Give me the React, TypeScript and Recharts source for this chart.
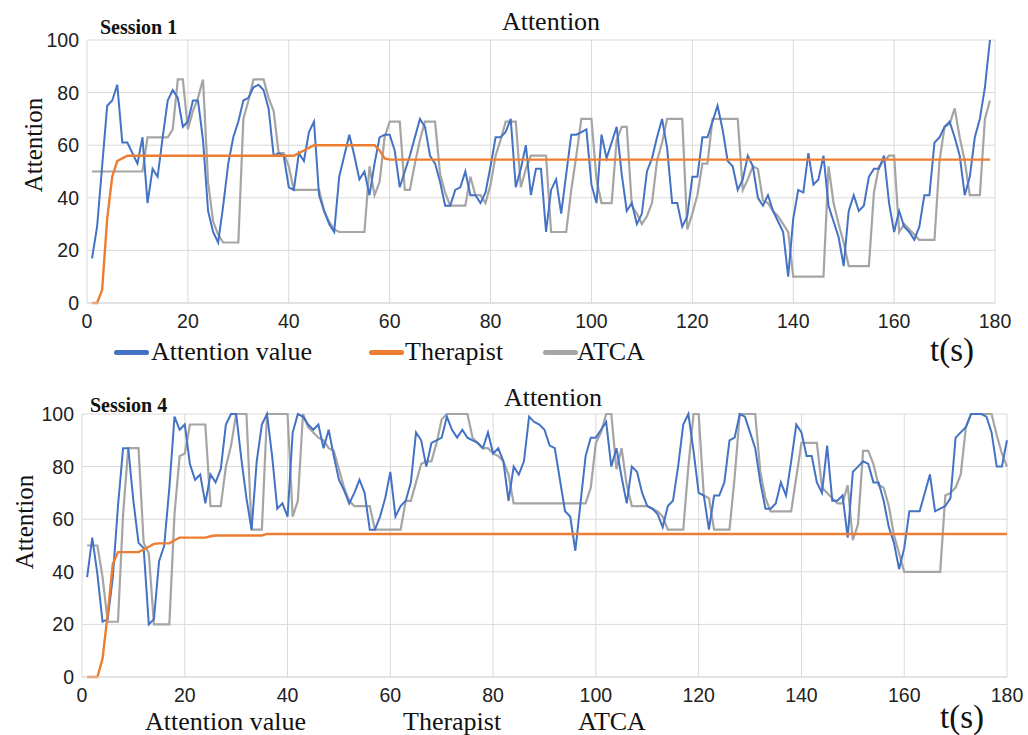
import React from 'react';
import { LineChart, Line, XAxis, YAxis, CartesianGrid } from 'recharts';

// time ticks (s) and attention ticks
const timeTicks = [0, 20, 40, 60, 80, 100, 120, 140, 160, 180];
const attentionTicks = [0, 20, 40, 60, 80, 100];

// Session 1, one value per second starting at t = 1
const s1Attention = [
  17, 29, 52, 75, 77, 83, 61, 61, 57, 53,
  63, 38, 51, 48, 63, 77, 81, 78, 67, 69,
  77, 77, 62, 35, 27, 23, 37, 53, 63, 69,
  77, 78, 82, 83, 81, 74, 56, 57, 56, 44,
  43, 57, 54, 65, 69, 41, 35, 30, 27, 48,
  56, 64, 56, 47, 50, 41, 53, 63, 64, 64,
  58, 44, 50, 56, 63, 70, 67, 56, 53, 46,
  37, 37, 43, 44, 50, 41, 41, 38, 42, 52,
  63, 63, 65, 70, 44, 51, 60, 41, 51, 51,
  27, 43, 47, 34, 49, 64, 64, 65, 66, 45,
  38, 64, 55, 61, 67, 49, 35, 38, 30, 34,
  50, 55, 63, 70, 59, 38, 38, 29, 33, 48,
  48, 63, 63, 69, 75, 66, 54, 52, 43, 47,
  56, 52, 40, 37, 41, 35, 31, 27, 10, 32,
  43, 42, 57, 45, 47, 56, 37, 31, 25, 14,
  35, 41, 35, 37, 48, 51, 51, 56, 38, 27,
  35, 29, 27, 24, 29, 41, 41, 61, 63, 67,
  69, 63, 56, 41, 48, 63, 70, 82, 100,
];

const s1Therapist = [
  0, 0, 5, 32, 48, 54, 55, 56, 56, 56,
  56, 56, 56, 56, 56, 56, 56, 56, 56, 56,
  56, 56, 56, 56, 56, 56, 56, 56, 56, 56,
  56, 56, 56, 56, 56, 56, 56, 56, 56, 56,
  56, 57, 58, 59, 60, 60, 60, 60, 60, 60,
  60, 60, 60, 60, 60, 60, 60, 58, 55, 54.5,
  54.5, 54.5, 54.5, 54.5, 54.5, 54.5, 54.5, 54.5, 54.5, 54.5,
  54.5, 54.5, 54.5, 54.5, 54.5, 54.5, 54.5, 54.5, 54.5, 54.5,
  54.5, 54.5, 54.5, 54.5, 54.5, 54.5, 54.5, 54.5, 54.5, 54.5,
  54.5, 54.5, 54.5, 54.5, 54.5, 54.5, 54.5, 54.5, 54.5, 54.5,
  54.5, 54.5, 54.5, 54.5, 54.5, 54.5, 54.5, 54.5, 54.5, 54.5,
  54.5, 54.5, 54.5, 54.5, 54.5, 54.5, 54.5, 54.5, 54.5, 54.5,
  54.5, 54.5, 54.5, 54.5, 54.5, 54.5, 54.5, 54.5, 54.5, 54.5,
  54.5, 54.5, 54.5, 54.5, 54.5, 54.5, 54.5, 54.5, 54.5, 54.5,
  54.5, 54.5, 54.5, 54.5, 54.5, 54.5, 54.5, 54.5, 54.5, 54.5,
  54.5, 54.5, 54.5, 54.5, 54.5, 54.5, 54.5, 54.5, 54.5, 54.5,
  54.5, 54.5, 54.5, 54.5, 54.5, 54.5, 54.5, 54.5, 54.5, 54.5,
  54.5, 54.5, 54.5, 54.5, 54.5, 54.5, 54.5, 54.5, 54.5,
];

const s1Atca = [
  50, 50, 50, 50, 50, 50, 50, 50, 50, 50,
  50, 63, 63, 63, 63, 63, 66, 85, 85, 66,
  73, 78, 85, 46, 31, 26, 23, 23, 23, 23,
  70, 77, 85, 85, 85, 78, 73, 57, 57, 52,
  43, 43, 43, 43, 43, 43, 35, 31, 28, 27,
  27, 27, 27, 27, 27, 52, 41, 46, 63, 69,
  69, 69, 43, 43, 53, 62, 69, 69, 69, 49,
  42, 37, 37, 37, 37, 48, 41, 41, 38, 45,
  56, 62, 69, 69, 69, 44, 51, 56, 56, 56,
  56, 27, 27, 27, 27, 43, 56, 70, 70, 70,
  47, 38, 38, 38, 62, 67, 67, 37, 34, 30,
  33, 38, 54, 61, 70, 70, 70, 70, 28, 34,
  41, 53, 53, 70, 70, 70, 70, 70, 70, 43,
  47, 52, 51, 39, 38, 35, 33, 30, 27, 10,
  10, 10, 10, 10, 10, 10, 52, 38, 30, 23,
  14, 14, 14, 14, 14, 42, 52, 54, 56, 56,
  27, 30, 28, 26, 24, 24, 24, 24, 54, 67,
  68, 74, 63, 54, 41, 41, 41, 70, 77,
];

// Session 4, one value per second starting at t = 1
const s4Attention = [
  38, 53, 39, 21, 22, 38, 65, 87, 87, 67,
  51, 49, 20, 22, 44, 50, 72, 99, 94, 96,
  81, 75, 77, 66, 77, 74, 79, 96, 100, 100,
  83, 68, 56, 82, 96, 100, 84, 64, 66, 61,
  93, 100, 99, 96, 94, 96, 87, 94, 84, 75,
  71, 66, 70, 75, 70, 56, 56, 61, 68, 78,
  61, 65, 67, 74, 93, 90, 80, 89, 90, 91,
  99, 94, 91, 94, 91, 90, 89, 87, 93, 85,
  87, 82, 67, 80, 77, 82, 99, 97, 96, 94,
  88, 87, 75, 63, 61, 48, 66, 84, 91, 91,
  94, 97, 80, 87, 76, 66, 80, 78, 70, 65,
  64, 62, 57, 65, 67, 80, 96, 100, 86, 70,
  69, 56, 69, 69, 74, 90, 91, 100, 99, 93,
  87, 74, 64, 64, 66, 74, 69, 82, 96, 93,
  84, 84, 74, 70, 88, 67, 67, 69, 53, 78,
  80, 82, 81, 74, 74, 67, 57, 51, 41, 49,
  63, 63, 63, 70, 77, 63, 64, 65, 68, 91,
  93, 95, 100, 100, 100, 99, 93, 80, 80, 90,
];

const s4Therapist = [
  0, 0, 0, 7, 24, 43, 47.5, 47.5, 47.5, 47.5,
  47.5, 48.5, 49.5, 50.6, 50.8, 50.8, 50.8, 52, 53, 53,
  53, 53, 53, 53, 53.5, 53.8, 53.8, 53.8, 53.8, 53.8,
  53.8, 53.8, 53.8, 53.8, 53.8, 54.4, 54.4, 54.4, 54.4, 54.4,
  54.4, 54.4, 54.4, 54.4, 54.4, 54.4, 54.4, 54.4, 54.4, 54.4,
  54.4, 54.4, 54.4, 54.4, 54.4, 54.4, 54.4, 54.4, 54.4, 54.4,
  54.4, 54.4, 54.4, 54.4, 54.4, 54.4, 54.4, 54.4, 54.4, 54.4,
  54.4, 54.4, 54.4, 54.4, 54.4, 54.4, 54.4, 54.4, 54.4, 54.4,
  54.4, 54.4, 54.4, 54.4, 54.4, 54.4, 54.4, 54.4, 54.4, 54.4,
  54.4, 54.4, 54.4, 54.4, 54.4, 54.4, 54.4, 54.4, 54.4, 54.4,
  54.4, 54.4, 54.4, 54.4, 54.4, 54.4, 54.4, 54.4, 54.4, 54.4,
  54.4, 54.4, 54.4, 54.4, 54.4, 54.4, 54.4, 54.4, 54.4, 54.4,
  54.4, 54.4, 54.4, 54.4, 54.4, 54.4, 54.4, 54.4, 54.4, 54.4,
  54.4, 54.4, 54.4, 54.4, 54.4, 54.4, 54.4, 54.4, 54.4, 54.4,
  54.4, 54.4, 54.4, 54.4, 54.4, 54.4, 54.4, 54.4, 54.4, 54.4,
  54.4, 54.4, 54.4, 54.4, 54.4, 54.4, 54.4, 54.4, 54.4, 54.4,
  54.4, 54.4, 54.4, 54.4, 54.4, 54.4, 54.4, 54.4, 54.4, 54.4,
  54.4, 54.4, 54.4, 54.4, 54.4, 54.4, 54.4, 54.4, 54.4, 54.4,
];

const s4Atca = [
  50, 50, 50, 38, 21, 21, 21, 62, 87, 87,
  87, 51, 47, 20, 20, 20, 20, 62, 84, 85,
  96, 96, 96, 96, 65, 65, 65, 80, 88, 100,
  100, 100, 56, 56, 56, 100, 100, 100, 100, 100,
  61, 67, 100, 95, 93, 91, 90, 87, 86, 79,
  72, 67, 65, 65, 65, 65, 56, 56, 56, 56,
  56, 56, 67, 67, 74, 81, 82, 82, 89, 98,
  100, 100, 100, 100, 100, 91, 89, 87, 87, 85,
  84, 82, 77, 66, 66, 66, 66, 66, 66, 66,
  66, 66, 66, 66, 66, 66, 66, 66, 72, 89,
  93, 100, 100, 79, 87, 73, 65, 65, 65, 65,
  64, 63, 61, 56, 56, 56, 56, 80, 100, 100,
  69, 68, 56, 56, 56, 56, 76, 100, 100, 100,
  100, 78, 68, 63, 63, 63, 63, 63, 76, 89,
  89, 89, 89, 72, 70, 68, 66, 66, 73, 52,
  58, 86, 86, 81, 73, 72, 65, 54, 47, 40,
  40, 40, 40, 40, 40, 40, 40, 69, 70, 72,
  77, 95, 100, 100, 100, 100, 100, 92, 85, 80,
];

const BLUE = '#4472C4';
const ORANGE = '#ED7D31';
const GRAY = '#A5A5A5';
const GRID = '#d9d9d9';

const buildRows = (att: number[], ther: number[], atca: number[]) =>
  att.map((v, i) => ({ t: i + 1, attention: v, therapist: ther[i], atca: atca[i] }));

const session1 = buildRows(s1Attention, s1Therapist, s1Atca);
const session4 = buildRows(s4Attention, s4Therapist, s4Atca);

const tickFont = { fontFamily: '"Liberation Sans", Arial, sans-serif', fontSize: 19.5, fill: '#222' };
const serif = '"Liberation Serif", "Times New Roman", serif';

type PanelProps = {
  data: Array<any>;
  top: number;
  yAxisWidth: number;
  rightMargin: number;
};

const Panel = ({ data, top, yAxisWidth, rightMargin }: PanelProps) => (
  <div style={{ position: 'absolute', left: 0, top }}>
    <LineChart
      width={1028}
      height={340}
      data={data}
      margin={{ top: 40, right: rightMargin, bottom: 0, left: 0 }}
    >
      <CartesianGrid stroke={GRID} strokeWidth={1} />
      <XAxis
        type="number"
        dataKey="t"
        domain={[0, 180]}
        ticks={timeTicks}
        interval={0}
        height={37}
        tickLine={false}
        tickMargin={5}
        axisLine={{ stroke: GRID }}
        tick={tickFont}
      />
      <YAxis
        domain={[0, 100]}
        ticks={attentionTicks}
        interval={0}
        width={yAxisWidth}
        axisLine={false}
        tickLine={false}
        tick={tickFont}
      />
      <Line type="linear" dataKey="atca" stroke={GRAY} strokeWidth={2.2} dot={false} isAnimationActive={false} />
      <Line type="linear" dataKey="attention" stroke={BLUE} strokeWidth={2} dot={false} isAnimationActive={false} />
      <Line type="linear" dataKey="therapist" stroke={ORANGE} strokeWidth={2.4} dot={false} isAnimationActive={false} />
    </LineChart>
  </div>
);

const Label = ({ x, y, size, text, bold, anchor = 'left' }: any) => (
  <div
    style={{
      position: 'absolute',
      left: x,
      top: y,
      transform: anchor === 'center' ? 'translate(-50%, -50%)' : 'translateY(-50%)',
      fontFamily: serif,
      fontSize: size,
      fontWeight: bold ? 700 : 400,
      color: '#111',
      whiteSpace: 'nowrap',
      lineHeight: 1,
    }}
  >
    {text}
  </div>
);

const Marker = ({ x, y, color }: any) => (
  <div
    style={{
      position: 'absolute',
      left: x,
      top: y - 2.5,
      width: 35,
      height: 5,
      borderRadius: 3,
      background: color,
    }}
  />
);

const YTitle = ({ x, y }: any) => (
  <div
    style={{
      position: 'absolute',
      left: x,
      top: y,
      transform: 'translate(-50%, -50%) rotate(-90deg)',
      fontFamily: serif,
      fontSize: 25,
      color: '#111',
      whiteSpace: 'nowrap',
      lineHeight: 1,
    }}
  >
    Attention
  </div>
);

export default function App() {
  return (
    <div style={{ position: 'absolute', left: 0, top: 0, width: 1028, height: 735, background: '#fff' }}>
      <Panel data={session1} top={0} yAxisWidth={87} rightMargin={33} />
      <Panel data={session4} top={374} yAxisWidth={82} rightMargin={21} />

      {/* session 1 texts */}
      <Label x={100} y={27} size={20} bold text="Session 1" />
      <Label x={551} y={22} size={26} anchor="center" text="Attention" />
      <YTitle x={33} y={145} />
      <Marker x={114} y={352} color={BLUE} />
      <Label x={151} y={352} size={26} text="Attention value" />
      <Marker x={369} y={352} color={ORANGE} />
      <Label x={405} y={352} size={26} text="Therapist" />
      <Marker x={543} y={352} color={GRAY} />
      <Label x={577} y={352} size={26} text="ATCA" />
      <Label x={952} y={350} size={33} anchor="center" text="t(s)" />

      {/* session 4 texts */}
      <Label x={90} y={405} size={20} bold text="Session 4" />
      <Label x={553} y={398} size={26} anchor="center" text="Attention" />
      <YTitle x={24} y={522} />
      <Label x={145} y={722} size={26} text="Attention value" />
      <Label x={403} y={722} size={26} text="Therapist" />
      <Label x={578} y={722} size={26} text="ATCA" />
      <Label x={962} y={717} size={33} anchor="center" text="t(s)" />
    </div>
  );
}
